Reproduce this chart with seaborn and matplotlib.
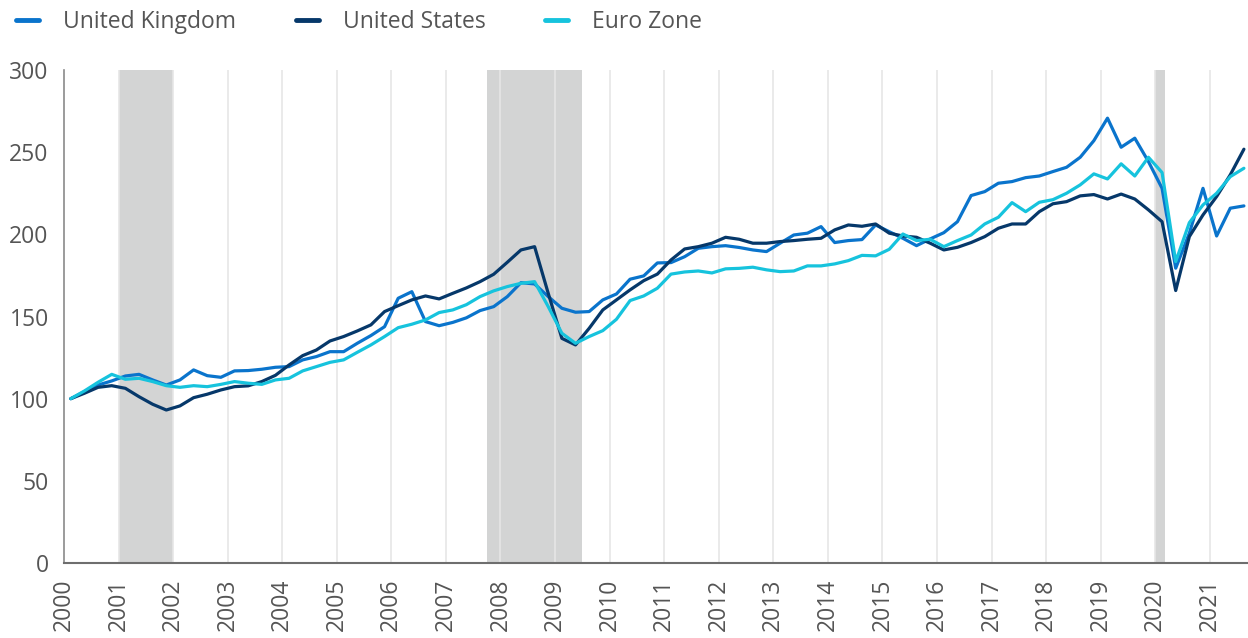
import numpy as np
import pandas as pd
import matplotlib
matplotlib.use("Agg")
import matplotlib.pyplot as plt
import seaborn as sns
from matplotlib.lines import Line2D

# ---- data (quarterly index, 2000Q1 = 100) ----
start_quarter = "2000Q1"
n_quarters = 87
uk = [100, 104.3, 108.3, 110.8, 113.8, 114.8, 111.4, 108.3, 111.4, 117.5,
      114, 113, 116.9, 117.1, 117.9, 119.1, 119.5, 123.6, 125.6, 128.6,
      128.6, 133.7, 138.4, 143.8, 161.1, 165.1, 146.9, 144.4, 146.4, 149.2,
      153.6, 156, 162.1, 170.6, 169.8, 162.1, 155, 152.6, 153, 160.1,
      163.7, 172.7, 174.7, 182.6, 182.8, 186.4, 191.5, 192.5, 193.1, 192,
      190.5, 189.5, 194.6, 199.6, 200.7, 204.7, 195, 196.2, 196.8, 205.7,
      201.6, 197.6, 193.1, 197.2, 201, 207.7, 223.6, 226, 231.1, 232.1,
      234.5, 235.5, 238.2, 240.8, 246.9, 257, 270.7, 253, 258.5, 244.3,
      228, 179.4, 200.7, 228, 199, 215.9, 217.3]
us = [100, 103.3, 106.9, 107.9, 106.3, 101.2, 96.6, 93.1, 95.6, 100.6,
      102.7, 105.3, 107.3, 107.8, 110.4, 114.2, 120.5, 126.2, 129.6, 135.1,
      137.8, 141.2, 144.9, 153, 156.6, 160.1, 162.5, 160.7, 164.1, 167.4,
      171.2, 175.7, 183, 190.5, 192.5, 164.1, 136.7, 132.7, 142.8, 154,
      160.1, 166.2, 171.8, 175.8, 184.4, 191.1, 192.5, 194.6, 198.2, 197,
      194.6, 194.6, 195.6, 196.2, 197, 197.6, 202.7, 205.7, 204.9, 206.3,
      200.7, 199, 198.2, 194.6, 190.5, 192.1, 195, 198.6, 203.7, 206.3,
      206.3, 213.8, 218.6, 219.9, 223.4, 224.2, 221.5, 224.5, 221.5, 214.9,
      207.7, 165.8, 198.6, 211.8, 223, 236.2, 251.8]
euro = [100, 104.7, 110, 114.8, 111.8, 112.4, 110.4, 107.9, 106.9, 107.9,
        107.3, 108.7, 110.4, 109.4, 108.7, 111.4, 112.4, 116.9, 119.5, 122.1,
        123.6, 128.2, 132.7, 137.8, 143.2, 145.3, 147.9, 152.4, 154, 157.2,
        162.1, 165.6, 168.2, 170.2, 171.2, 156, 139.8, 133.7, 137.8, 141.4,
        148.3, 159.7, 162.5, 167.2, 175.8, 177.1, 177.7, 176.5, 179, 179.3,
        180, 178.4, 177.3, 177.7, 180.8, 180.8, 182, 184, 187.2, 186.9,
        190.9, 200.2, 196.2, 197, 192.5, 196.2, 199.6, 206.3, 210.4, 219.3,
        213.8, 219.5, 221.1, 225, 230.1, 236.8, 233.7, 242.9, 235.5, 246.9,
        237.6, 183.4, 207.1, 217.9, 225, 235.1, 240.2]
series_names = ["United Kingdom", "United States", "Euro Zone"]
colors = ["#0a74cc", "#06386a", "#16c3dd"]
recessions = [(2001.0, 2002.0), (2007.75, 2009.5), (2020.0, 2020.17)]
year_ticks = list(range(2000, 2022))
y_ticks = [0, 50, 100, 150, 200, 250, 300]

# ---- build long-form table ----
periods = pd.period_range(start_quarter, periods=n_quarters, freq="Q")
xpos = np.array([p.year + (p.quarter - 1) / 4 + 0.125 for p in periods])
df = pd.concat([
    pd.DataFrame({"x": xpos, "value": vals, "series": name})
    for name, vals in zip(series_names, [uk, us, euro])
])

sns.set_style("white")
plt.rcParams["font.family"] = ["Open Sans", "DejaVu Sans"]

fig = plt.figure(figsize=(12.48, 6.38), dpi=100)
ax = fig.add_axes([64 / 1248, 1 - 563 / 638, 1 - 64 / 1248, (563 - 70) / 638])

for a, b in recessions:
    ax.axvspan(a, b, color="#d3d4d4", lw=0, zorder=0)
for yr in year_ticks[1:]:
    ax.axvline(yr, color="#e6e6e6", lw=1.2, zorder=0.5)

sns.lineplot(data=df, x="x", y="value", hue="series", hue_order=series_names,
             palette=colors, linewidth=2.3, ax=ax, legend=False, zorder=3)

ax.set_xlim(2000, 2021.7)
ax.set_ylim(0, 300)
ax.set_xticks(year_ticks)
ax.set_xticklabels([str(y) for y in year_ticks], rotation=90)
ax.set_yticks(y_ticks)
ax.tick_params(axis="both", length=0, labelsize=16.5, colors="#555555")
ax.tick_params(axis="x", pad=11)
ax.tick_params(axis="y", pad=11)
ax.set_xlabel("")
ax.set_ylabel("")
for s in ["top", "right"]:
    ax.spines[s].set_visible(False)
ax.spines["left"].set_color("#8a8a8a")
ax.spines["left"].set_linewidth(1.2)
ax.spines["bottom"].set_color("#6e6e6e")
ax.spines["bottom"].set_linewidth(1.5)

handles = [Line2D([0], [0], color=c, lw=3.5, solid_capstyle="round") for c in colors]
leg = fig.legend(handles, series_names, loc="upper left", bbox_to_anchor=(0.0, 1.01),
                 ncol=3, frameon=False, fontsize=16.5, handlelength=1.0,
                 handletextpad=1.05, columnspacing=2.6, borderaxespad=0.3)
for t in leg.get_texts():
    t.set_color("#555555")

fig.savefig("out.png", dpi=100)
